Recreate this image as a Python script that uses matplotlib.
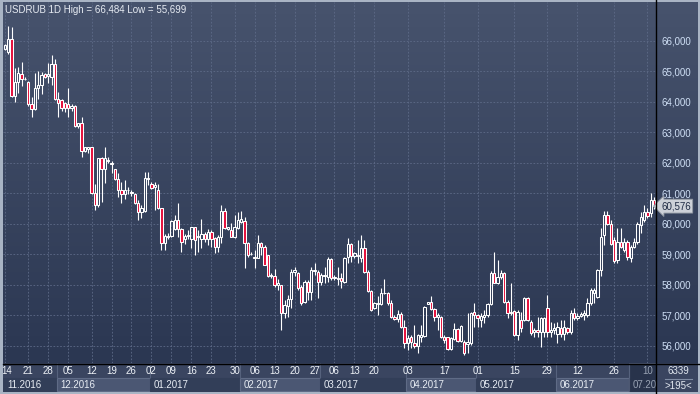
import numpy as np
import matplotlib.pyplot as plt
from matplotlib.patches import Rectangle
from matplotlib.lines import Line2D
from matplotlib.transforms import blended_transform_factory

plt.rcParams['font.family'] = ['Liberation Sans', 'DejaVu Sans']

# daily USDRUB candles, values in thousands (66.484 -> "66,484")
opens = [65.72, 65.62, 66.04, 64.20, 64.65, 64.90, 64.75, 64.65, 63.94, 63.75,
         64.44, 64.55, 64.90, 64.84, 64.82, 65.22, 64.10, 64.05, 63.97, 63.93,
         63.78, 63.85, 63.20, 63.30, 62.40, 62.45, 62.50, 61.00, 60.60, 62.15,
         61.80, 62.05, 61.95, 61.78, 61.45, 61.12, 60.96, 61.10, 61.00, 60.96,
         60.69, 60.40, 60.43, 61.48, 61.30, 61.20, 61.10, 60.50, 59.38, 59.58,
         59.60, 59.82, 60.12, 59.82, 59.50, 59.60, 59.50, 59.88, 59.55, 59.50,
         59.66, 59.50, 59.74, 59.52, 59.25, 59.57, 60.42, 59.84, 59.79, 59.57,
         59.85, 60.07, 60.10, 59.38, 59.00, 58.92, 58.87, 59.38, 59.25, 58.97,
         58.28, 58.28, 57.99, 57.99, 57.06, 57.30, 57.52, 58.43, 58.37, 57.93,
         57.44, 58.10, 57.77, 58.45, 58.43, 58.10, 58.27, 58.26, 58.83, 58.21,
         58.20, 58.21, 58.10, 58.90, 59.33, 58.94, 58.98, 58.88, 59.19, 58.43,
         57.80, 57.22, 57.36, 57.36, 57.72, 57.74, 57.39, 56.95, 56.86, 57.04,
         56.62, 56.08, 56.27, 56.10, 55.99, 56.30, 56.32, 57.38, 57.42, 57.20,
         56.95, 56.95, 56.27, 56.27, 55.88, 56.22, 56.54, 56.17, 56.13, 56.05,
         56.08, 57.12, 57.00, 56.84, 56.93, 57.00, 57.36, 58.39, 58.04, 58.24,
         58.39, 57.44, 57.06, 57.15, 56.35, 56.83, 56.84, 57.55, 56.79, 56.45,
         56.52, 56.45, 56.46, 57.22, 56.46, 56.52, 56.40, 56.57, 56.40, 56.57,
         56.46, 57.08, 56.90, 56.97, 57.00, 57.00, 57.39, 57.72, 57.60, 58.48,
         59.63, 60.28, 60.00, 59.46, 58.80, 59.41, 59.14, 59.41, 58.87, 59.25,
         59.41, 59.96, 60.12, 60.39, 60.34, 60.78]
highs = [65.88, 66.484, 66.44, 65.10, 65.15, 65.30, 64.80, 64.68, 64.14, 64.95,
         65.00, 64.98, 64.95, 65.26, 65.53, 65.39, 64.33, 64.08, 64.00, 64.45,
         63.93, 63.88, 63.30, 63.50, 62.52, 62.50, 62.50, 61.30, 62.15, 62.20,
         62.50, 62.20, 62.05, 61.78, 61.65, 61.37, 61.43, 61.21, 61.10, 61.00,
         60.78, 60.61, 61.70, 61.70, 61.38, 61.38, 61.30, 60.50, 59.66, 59.68,
         60.12, 60.30, 60.68, 59.85, 59.65, 59.80, 59.90, 59.90, 59.80, 60.14,
         59.72, 59.82, 59.80, 59.58, 59.63, 60.61, 60.50, 59.90, 60.03, 60.28,
         60.39, 60.43, 60.23, 59.41, 59.08, 59.14, 59.63, 59.41, 59.30, 58.97,
         58.37, 58.53, 58.20, 57.99, 57.50, 57.66, 58.53, 58.57, 58.43, 57.99,
         58.17, 58.15, 58.59, 58.70, 58.48, 58.37, 58.59, 58.90, 58.86, 58.32,
         58.59, 58.37, 58.92, 59.52, 59.38, 59.08, 59.46, 59.63, 59.46, 58.48,
         57.83, 57.44, 57.63, 57.90, 58.20, 57.77, 57.50, 57.00, 57.17, 57.12,
         56.84, 56.35, 56.35, 56.68, 56.40, 56.68, 57.30, 57.44, 57.63, 57.22,
         57.06, 56.98, 56.35, 56.30, 56.30, 56.73, 56.57, 56.68, 56.19, 57.08,
         57.12, 57.41, 57.04, 57.06, 57.17, 57.41, 58.46, 59.08, 58.80, 58.48,
         58.43, 57.50, 58.04, 57.17, 57.17, 57.11, 57.60, 57.60, 56.84, 56.57,
         56.95, 56.95, 56.95, 57.66, 56.79, 56.73, 56.79, 56.84, 56.84, 56.62,
         57.17, 57.22, 57.06, 57.11, 57.17, 57.55, 57.88, 57.88, 58.53, 59.85,
         60.43, 60.43, 60.12, 59.57, 59.85, 59.85, 59.52, 59.46, 59.30, 59.52,
         60.06, 60.39, 60.61, 60.50, 61.02, 60.87]
lows = [65.70, 65.58, 64.16, 64.00, 64.30, 64.50, 64.70, 63.87, 63.49, 63.72,
        64.10, 64.25, 64.78, 64.60, 64.55, 64.05, 63.50, 63.70, 63.65, 63.50,
        63.70, 63.18, 63.15, 62.20, 62.35, 62.33, 60.98, 60.45, 60.55, 60.70,
        61.33, 61.98, 61.65, 61.43, 60.88, 60.69, 60.80, 60.97, 60.91, 60.65,
        60.12, 60.18, 60.40, 61.27, 61.15, 60.45, 60.48, 59.14, 59.14, 59.50,
        59.58, 59.80, 59.58, 59.08, 59.35, 59.50, 59.20, 58.98, 59.08, 59.20,
        59.40, 59.30, 59.25, 59.03, 59.08, 59.36, 59.81, 59.80, 59.57, 59.52,
        59.81, 60.02, 58.54, 58.92, 58.97, 58.54, 58.87, 58.97, 58.65, 58.26,
        58.21, 57.93, 57.82, 56.52, 56.90, 56.95, 57.22, 58.27, 57.82, 57.33,
        57.39, 57.50, 57.50, 58.32, 57.55, 57.99, 58.04, 58.10, 58.17, 58.15,
        57.99, 57.88, 58.04, 58.70, 58.75, 58.86, 58.70, 58.75, 58.37, 57.77,
        57.15, 57.19, 57.00, 57.33, 57.70, 57.33, 56.90, 56.84, 56.79, 56.57,
        55.91, 55.86, 55.91, 55.91, 55.77, 56.13, 56.27, 57.38, 57.17, 56.80,
        56.52, 56.24, 56.08, 55.85, 55.85, 56.20, 56.13, 56.13, 55.699, 55.75,
        56.03, 56.60, 56.60, 56.60, 56.76, 56.93, 57.33, 58.04, 58.02, 58.20,
        57.39, 56.90, 57.00, 56.32, 56.19, 56.46, 56.80, 56.80, 56.35, 56.30,
        56.30, 55.97, 56.30, 56.27, 56.30, 56.40, 56.10, 56.30, 56.20, 56.40,
        56.40, 56.84, 56.84, 56.95, 56.84, 56.95, 57.33, 57.39, 57.55, 58.27,
        59.30, 59.95, 59.30, 58.70, 58.70, 59.20, 59.08, 58.81, 58.76, 59.20,
        59.35, 59.68, 60.07, 60.18, 60.23, 60.47]
closes = [65.85, 66.04, 64.19, 64.65, 64.93, 64.73, 64.73, 63.94, 63.75, 64.44,
          64.55, 64.87, 64.82, 64.92, 65.22, 64.10, 63.97, 63.80, 63.80, 63.78,
          63.85, 63.20, 63.29, 62.40, 62.50, 62.50, 61.00, 60.60, 62.15, 61.80,
          62.15, 62.08, 61.98, 61.45, 61.12, 60.96, 61.10, 61.12, 61.04, 60.69,
          60.40, 60.50, 61.49, 61.50, 61.18, 61.27, 60.50, 59.38, 59.60, 59.60,
          60.10, 60.12, 59.82, 59.40, 59.60, 59.63, 59.88, 59.46, 59.60, 59.66,
          59.50, 59.72, 59.49, 59.25, 59.57, 60.42, 59.85, 59.88, 59.57, 59.90,
          60.12, 60.17, 59.38, 58.97, 59.02, 58.87, 59.38, 59.25, 58.65, 58.28,
          58.32, 57.99, 58.04, 57.06, 57.33, 57.52, 58.43, 58.48, 57.88, 57.41,
          58.10, 57.77, 58.48, 58.48, 58.10, 58.32, 58.32, 58.83, 58.21, 58.26,
          58.22, 58.13, 58.86, 59.33, 58.94, 59.03, 58.94, 59.19, 58.43, 57.80,
          57.17, 57.41, 57.39, 57.74, 57.74, 57.39, 56.95, 56.86, 57.04, 56.62,
          56.08, 56.24, 56.13, 55.99, 56.35, 56.35, 57.28, 57.42, 57.20, 56.95,
          57.00, 56.27, 56.18, 55.88, 56.24, 56.54, 56.17, 56.65, 55.77, 56.13,
          57.08, 57.00, 56.90, 56.97, 57.00, 57.36, 58.39, 58.04, 58.24, 58.39,
          57.44, 57.06, 57.11, 56.35, 57.11, 56.57, 57.55, 56.84, 56.43, 56.52,
          56.45, 56.90, 56.90, 56.46, 56.51, 56.57, 56.62, 56.40, 56.62, 56.46,
          57.08, 56.90, 56.98, 57.04, 57.06, 57.39, 57.83, 57.83, 58.48, 59.55,
          60.28, 60.00, 59.33, 58.79, 59.41, 59.25, 59.41, 58.92, 59.25, 59.41,
          60.00, 60.23, 60.39, 60.25, 60.78, 60.576]

day_labels = ['14', '21', '28', '05', '12', '19', '26', '02', '09', '16', '23', '30',
              '06', '13', '20', '27', '06', '13', '20', '03', '17', '01', '15', '29',
              '12', '26', '10']
day_idx = [0, 7, 13, 19, 26, 32, 38, 44, 50, 56, 62, 69, 75, 81, 87, 93, 99, 105,
           111, 121, 132, 142, 153, 163, 172, 183, 193]
# the July label is cut off by the price scale in the original
months = ['11.2016', '12.2016', '01.2017', '02.2017', '03.2017', '04.2017',
          '05.2017', '06.2017', '07.20']
month_start = [0, 16, 44, 71, 95, 121, 142, 166, 188]
price_ticks = [56, 57, 58, 59, 60, 61, 62, 63, 64, 65, 66]
last_price = closes[-1]
visible_bars = 195
volume_text = '6339'

W, H = 700, 394
n = len(closes)
xmin, xmax = -0.6, n - 0.4


def fx(px):
    return px / W


def fy(py):
    return 1 - py / H


def fmt(v):
    return f"{v:.3f}".replace('.', ',')


fig = plt.figure(figsize=(7, 3.94), dpi=100)
fig.patch.set_facecolor('#3a4560')

# gradient behind chart and price scale
bg = fig.add_axes([0, fy(363), 1, 363 / H])
t = np.linspace(0, 1, 256)[:, None, None]
top = np.array([0x47, 0x53, 0x6d]) / 255
bot = np.array([0x2b, 0x37, 0x52]) / 255
bg.imshow(top * (1 - t) + bot * t, aspect='auto', extent=[0, 1, 0, 1])
bg.axis('off')

ax = fig.add_axes([fx(3), fy(363), fx(653), 361 / H])
ax.patch.set_alpha(0)
for s in ax.spines.values():
    s.set_visible(False)
ax.set_xlim(xmin, xmax)
ax.set_ylim(66 - (363 - 40.7) / 30.5, 66 - (2 - 40.7) / 30.5)

for v in price_ticks:
    ax.axhline(v, color='#5e6b88', lw=0.6, ls=(0, (2, 2)), zorder=0)
for i in day_idx:
    ax.axvline(i, color='#5e6b88', lw=0.6, ls=(0, (2, 2)), zorder=0)

o = np.array(opens)
c = np.array(closes)
h = np.array(highs)
l = np.array(lows)
x = np.arange(n)
up = c >= o
hi = np.maximum(o, c)
lo = np.minimum(o, c)
ax.vlines(x, hi, h, color='white', lw=0.8, zorder=2)
ax.vlines(x, l, lo, color='white', lw=0.8, zorder=2)
ax.bar(x, hi - lo, bottom=lo, width=0.7,
       color=['none' if u else '#e5103c' for u in up],
       edgecolor='white', linewidth=0.75, zorder=3)

ax.set_xticks([])
ax.yaxis.tick_right()
ax.set_yticks(price_ticks)
ax.set_yticklabels([fmt(v) for v in price_ticks])
ax.tick_params(axis='y', length=0, pad=4, labelcolor='#cfdff5', labelsize=7)

trans = blended_transform_factory(ax.transAxes, ax.transData)
ax.text(1 + 5 / 653, last_price, fmt(last_price), transform=trans, ha='left', va='center',
        fontsize=7, color='#1f2b44', clip_on=False, zorder=10,
        bbox=dict(boxstyle='larrow,pad=0.2', fc='#cdd1d8', ec='#8f96a0', lw=0.6))

fig.text(fx(5), fy(10), f"USDRUB 1D High = {fmt(max(highs))} Low = {fmt(min(lows))}",
         color='#e6ebf2', fontsize=7, va='center')

# time axis strip
axb = fig.add_axes([fx(3), fy(392), fx(653), 29 / H])
axb.set_xlim(xmin, xmax)
axb.set_ylim(0, 29)
axb.set_facecolor('#3a4560')
axb.set_xticks([])
axb.set_yticks([])
for s in axb.spines.values():
    s.set_visible(False)

ends = month_start[1:] + [n]
for k, (m, s0, s1) in enumerate(zip(months, month_start, ends)):
    if k == len(months) - 1:
        axb.add_patch(Rectangle((s0 - 0.5, 0), xmax - s0 + 0.5, 29, fc='#28334b',
                                ec='#4d5872', lw=0.8, zorder=1))
        tc = '#98a2b3'
    else:
        light = k % 2 == 1
        axb.add_patch(Rectangle((s0 - 0.5, 0.6), s1 - s0, 13.2,
                                fc='#4b5773' if light else '#323e58',
                                ec='#5f6b86' if light else '#323e58', lw=0.8, zorder=1))
        tc = '#e8edf4'
    if k > 0:
        axb.vlines(s0 - 0.5, 14, 29, color='#56627d', lw=0.8, zorder=1)
    axb.text(s0 - 0.5 + 1.1, 6.8, m, ha='left', va='center', fontsize=7, color=tc,
             clip_on=True, zorder=2)

for lab, i in zip(day_labels, day_idx):
    tc = '#98a2b3' if i >= month_start[-1] else '#eef2f7'
    axb.text(i + (0.4 if i == 0 else 0), 21.5, lab, ha='center', va='center', fontsize=7,
             color=tc, clip_on=True, zorder=2)

# bottom-right info box
fig.text(fx(678), fy(371), volume_text, ha='center', va='center', fontsize=7, color='#e2e8f0')
fig.text(fx(678), fy(386), f">{visible_bars}<", ha='center', va='center', fontsize=7,
         color='#e2e8f0')
fig.add_artist(Line2D([fx(665), fx(692)], [fy(379), fy(379)], color='#7f8ca3', lw=0.8))

# separators and frame
fig.add_artist(Line2D([fx(656), fx(656)], [0, 1], color='black', lw=1.0))
fig.add_artist(Line2D([fx(3), 1], [fy(363.5), fy(363.5)], color='black', lw=1.0))
for rect in [(0, 0, fx(3), 1), (0, fy(2), 1, 2 / H), (0, 0, 1, 2 / H), (fx(698), 0, 2 / W, 1)]:
    fig.add_artist(Rectangle(rect[:2], rect[2], rect[3], transform=fig.transFigure,
                             fc='#a9b4c4', ec='none'))

fig.savefig('out.png', dpi=100)
